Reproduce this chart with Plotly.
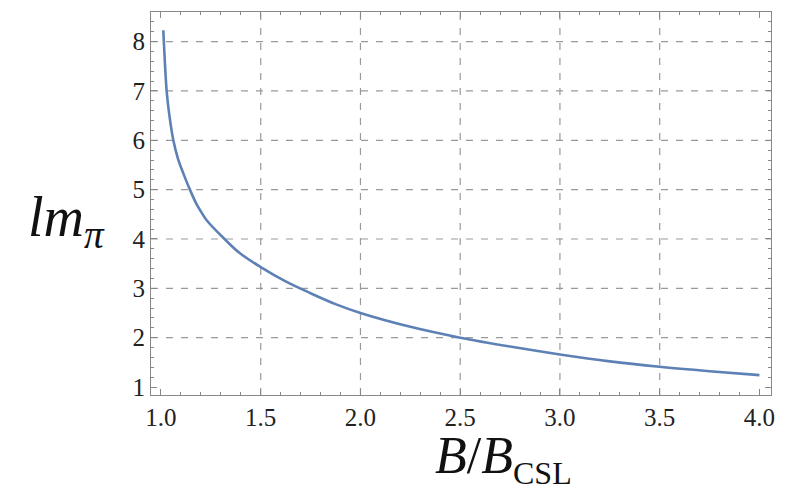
import plotly.graph_objects as go

# Data
b_ratio = [1.0117, 1.0284, 1.040, 1.062, 1.085, 1.112, 1.145, 1.179, 1.20, 1.229,
           1.321, 1.396, 1.50, 1.625, 1.75, 1.875, 2.0, 2.25, 2.5, 2.75, 3.0, 3.25, 3.5, 3.75, 4.0]
lm_pi = [8.23, 7.0, 6.57, 6.0, 5.63, 5.33, 5.0, 4.70, 4.56, 4.38,
         3.99, 3.71, 3.43, 3.14, 2.90, 2.68, 2.50, 2.22, 2.00, 1.82, 1.66, 1.52, 1.41, 1.32, 1.24]

x_grid = [1.5, 2.0, 2.5, 3.0, 3.5]
y_grid = [2, 3, 4, 5, 6, 7, 8]
x_ticks = [1.0, 1.5, 2.0, 2.5, 3.0, 3.5, 4.0]
y_ticks = [1, 2, 3, 4, 5, 6, 7, 8]

fig = go.Figure()
fig.add_trace(go.Scatter(x=b_ratio, y=lm_pi, mode="lines",
                         line=dict(color="#5E81B5", width=2.6, shape="spline", smoothing=1.0),
                         hoverinfo="skip"))

shapes = []
for gx in x_grid:
    shapes.append(dict(type="line", xref="x", yref="paper", x0=gx, x1=gx, y0=0, y1=1,
                       line=dict(color="#9a9a9a", width=1.2, dash="7px,8px"), layer="below"))
for gy in y_grid:
    shapes.append(dict(type="line", xref="paper", yref="y", x0=0, x1=1, y0=gy, y1=gy,
                       line=dict(color="#9a9a9a", width=1.2, dash="7px,8px"), layer="below"))

tickfont = dict(family="Liberation Serif", size=25, color="#222")
fig.update_layout(
    width=788, height=490,
    margin=dict(l=151, r=17, t=12, b=95),
    paper_bgcolor="white", plot_bgcolor="white",
    showlegend=False,
    shapes=shapes,
    xaxis=dict(range=[0.95, 4.058], tickvals=x_ticks, tickformat=".1f",
               ticks="inside", ticklen=6, tickcolor="#888", tickwidth=1,
               minor=dict(dtick=0.1, ticks="inside", ticklen=3, tickcolor="#888"),
               showgrid=False, zeroline=False, showline=True, linecolor="#888",
               linewidth=1.2, mirror="allticks", tickfont=tickfont),
    yaxis=dict(range=[0.838, 8.6], tickvals=y_ticks,
               ticks="inside", ticklen=6, tickcolor="#888", tickwidth=1,
               minor=dict(dtick=0.2, ticks="inside", ticklen=3, tickcolor="#888"),
               showgrid=False, zeroline=False, showline=True, linecolor="#888",
               linewidth=1.2, mirror="allticks", tickfont=tickfont),
    annotations=[
        dict(text="<i>B</i>/<i>B</i><sub><span style='font-size:32px'>CSL</span></sub>",
             xref="paper", yref="paper", x=0.568, y=0, xanchor="center", yanchor="top",
             yshift=-30, showarrow=False,
             font=dict(family="Liberation Serif", size=52, color="#111")),
        dict(text="<i>lm</i><sub><i>π</i></sub>",
             xref="paper", yref="paper", x=-0.137, y=0.455, xanchor="center", yanchor="middle",
             showarrow=False,
             font=dict(family="Liberation Serif", size=56, color="#111")),
    ],
)

fig.write_html("out.html")
